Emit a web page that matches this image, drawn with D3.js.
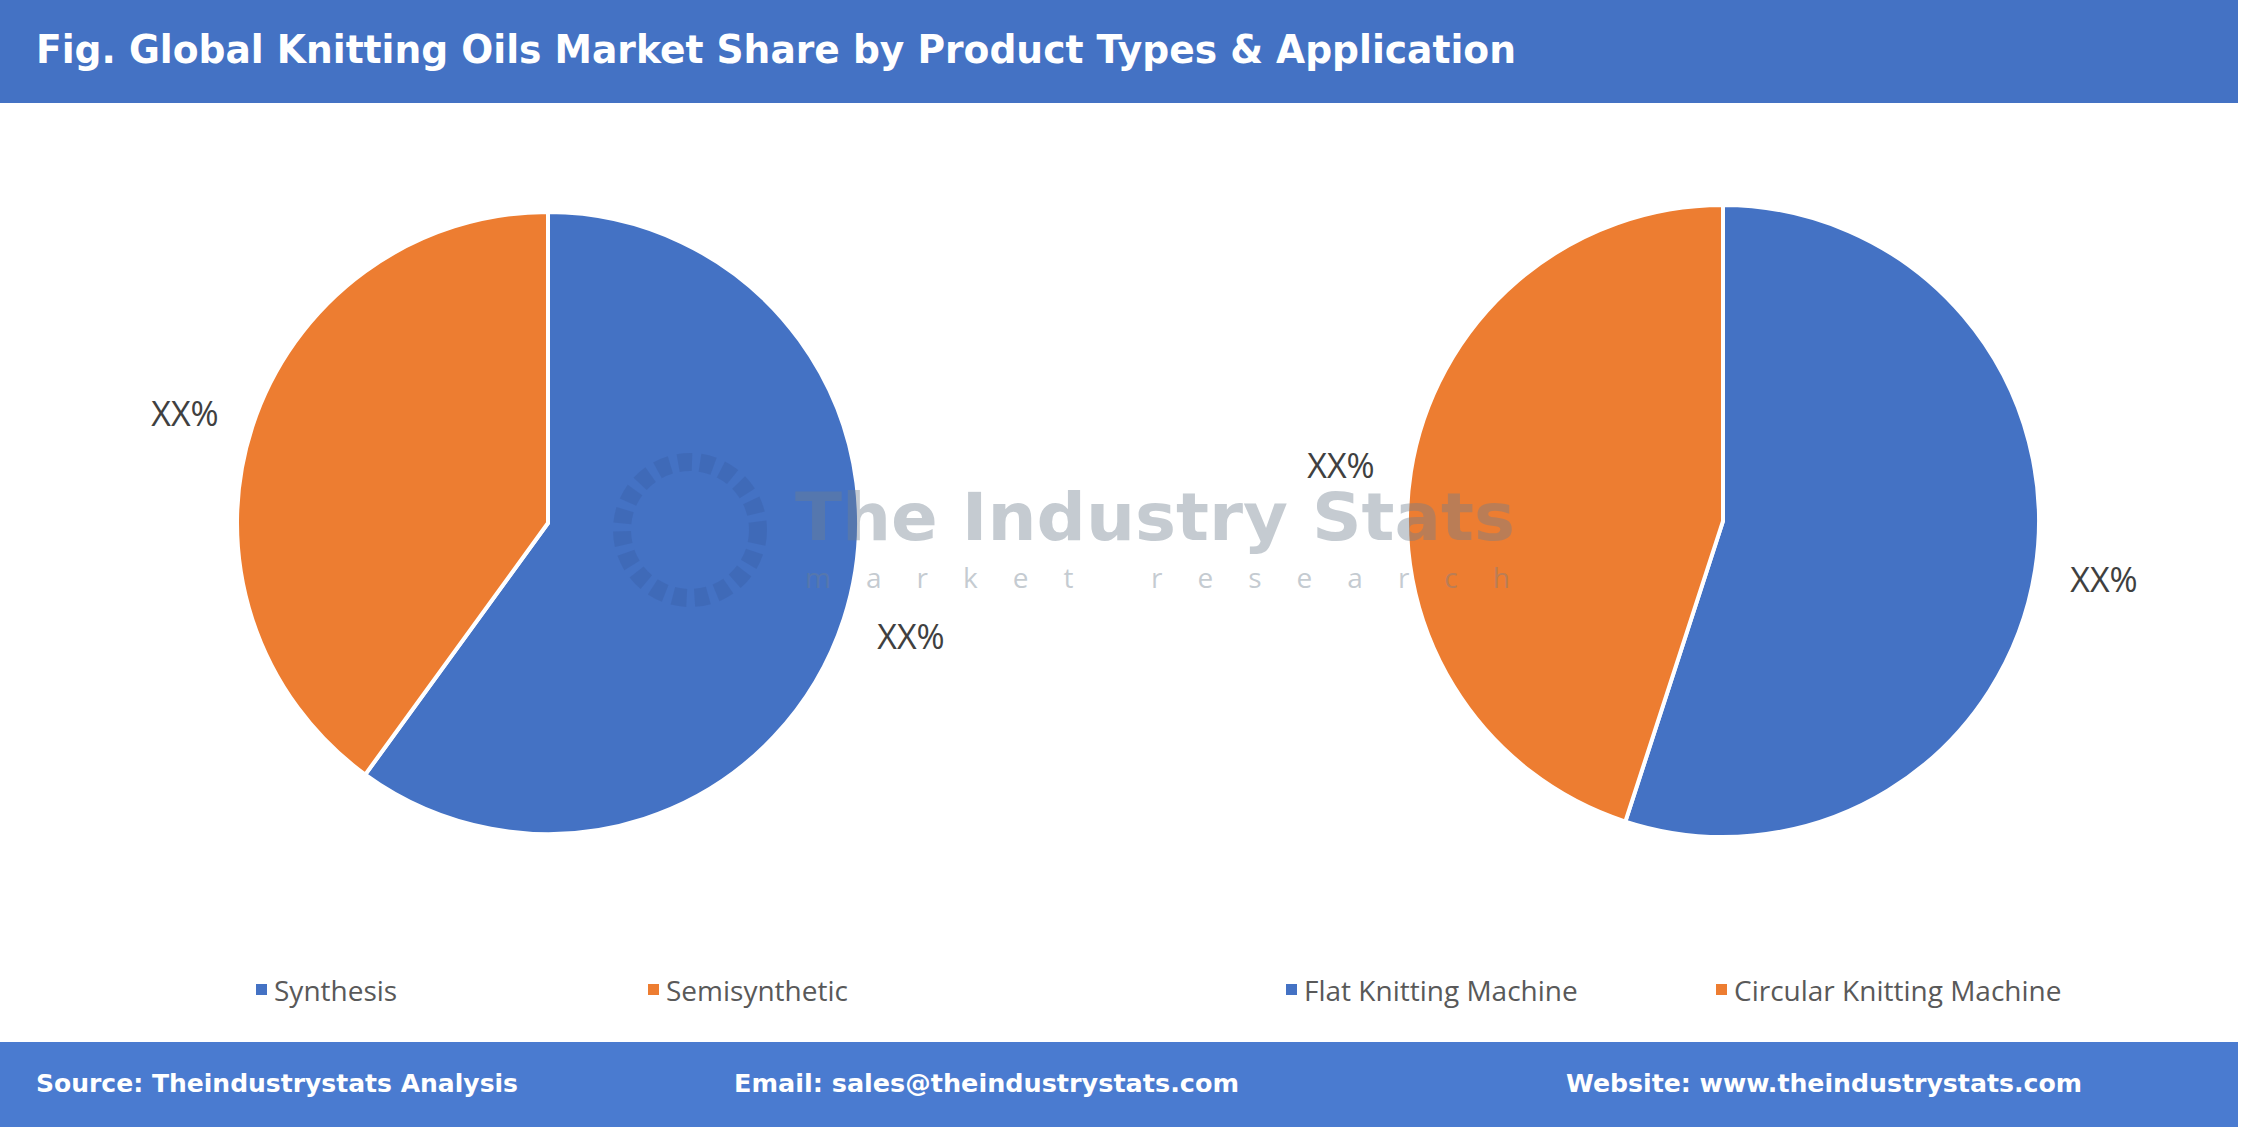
<!DOCTYPE html>
<html><head><meta charset="utf-8">
<script src="https://cdn.jsdelivr.net/npm/d3@7"></script>
<style>body{margin:0;background:#fff}svg{display:block}</style>
</head><body>
<script>
const title = "Fig. Global Knitting Oils Market Share by Product Types & Application";
const productTypes = ["Synthesis", "Semisynthetic"];
const productValues = [60, 40];
const applications = ["Flat Knitting Machine", "Circular Knitting Machine"];
const applicationValues = [55, 45];
const sliceLabels = ["XX%", "XX%"];
const footerTexts = ["Source: Theindustrystats Analysis", "Email: sales@theindustrystats.com", "Website: www.theindustrystats.com"];
const colors = ["#4472C4", "#ED7D31"];

const W = 2242, H = 1127;
const svg = d3.select("body").append("svg").attr("width", W).attr("height", H);
svg.append("rect").attr("width", W).attr("height", H).attr("fill", "#fff");

svg.append("rect").attr("x", 0).attr("y", 0).attr("width", 2238).attr("height", 103).attr("fill", "#4472C4");
svg.append("text").attr("x", 36).attr("y", 63).text(title)
  .attr("fill", "#fff").attr("font-family", "DejaVu Sans, sans-serif").attr("font-weight", 700).attr("font-size", 39)
  .attr("textLength", 1480).attr("lengthAdjust", "spacingAndGlyphs");

function drawPie(cx, cy, r, names, values, labelPos, legendX) {
  const pie = d3.pie().sort(null).value(d => d)(values);
  const arc = d3.arc().innerRadius(0).outerRadius(r);
  const g = svg.append("g").attr("transform", `translate(${cx},${cy})`);
  g.selectAll("path").data(pie).join("path")
    .attr("d", arc).attr("fill", (d, i) => colors[i])
    .attr("stroke", "#fff").attr("stroke-width", 4);
  pie.forEach((d, i) => {
    svg.append("text").attr("x", labelPos[i][0]).attr("y", labelPos[i][1]).text(sliceLabels[i])
      .attr("fill", "#404040").attr("font-family", "Open Sans, sans-serif").attr("font-size", 34).attr("text-anchor", "middle");
  });
  names.forEach((n, i) => {
    svg.append("rect").attr("x", legendX[i]).attr("y", 984).attr("width", 11).attr("height", 11).attr("fill", colors[i]);
    svg.append("text").attr("x", legendX[i] + 18).attr("y", 1001).text(n)
      .attr("fill", "#595959").attr("font-family", "Open Sans, sans-serif").attr("font-size", 28);
  });
}
drawPie(548, 523, 311, productTypes, productValues, [[911, 649], [185, 426]], [256, 648]);
drawPie(1723, 521, 316, applications, applicationValues, [[2104, 592], [1341, 478]], [1286, 1716]);

// watermark on top
const wm = svg.append("g").attr("opacity", 0.4);
wm.append("text").attr("x", 795).attr("y", 540).text("The Industry Stats")
  .attr("fill", "#6f7f8f").attr("font-family", "DejaVu Sans, sans-serif").attr("font-weight", 700).attr("font-size", 66)
  .attr("textLength", 720).attr("lengthAdjust", "spacingAndGlyphs");
wm.append("text").attr("x", 805).attr("y", 588).text("market research")
  .attr("fill", "#6f7f8f").attr("font-family", "Open Sans, sans-serif").attr("font-size", 28)
  .attr("textLength", 705).attr("lengthAdjust", "spacing");
wm.append("circle").attr("cx", 690).attr("cy", 530).attr("r", 68).attr("fill", "none").attr("stroke", "#3a5fa8").attr("stroke-width", 18).attr("stroke-dasharray", "14 8");

svg.append("rect").attr("x", 0).attr("y", 1042).attr("width", 2238).attr("height", 85).attr("fill", "#4A7BD0");
const fx = [36, 734, 1566];
const fw = [482, 505, 516];
footerTexts.forEach((t, i) => svg.append("text").attr("x", fx[i]).attr("y", 1092).text(t)
  .attr("fill", "#fff").attr("font-family", "DejaVu Sans, sans-serif").attr("font-weight", 700).attr("font-size", 25)
  .attr("textLength", fw[i]).attr("lengthAdjust", "spacingAndGlyphs"));
</script>
</body></html>
